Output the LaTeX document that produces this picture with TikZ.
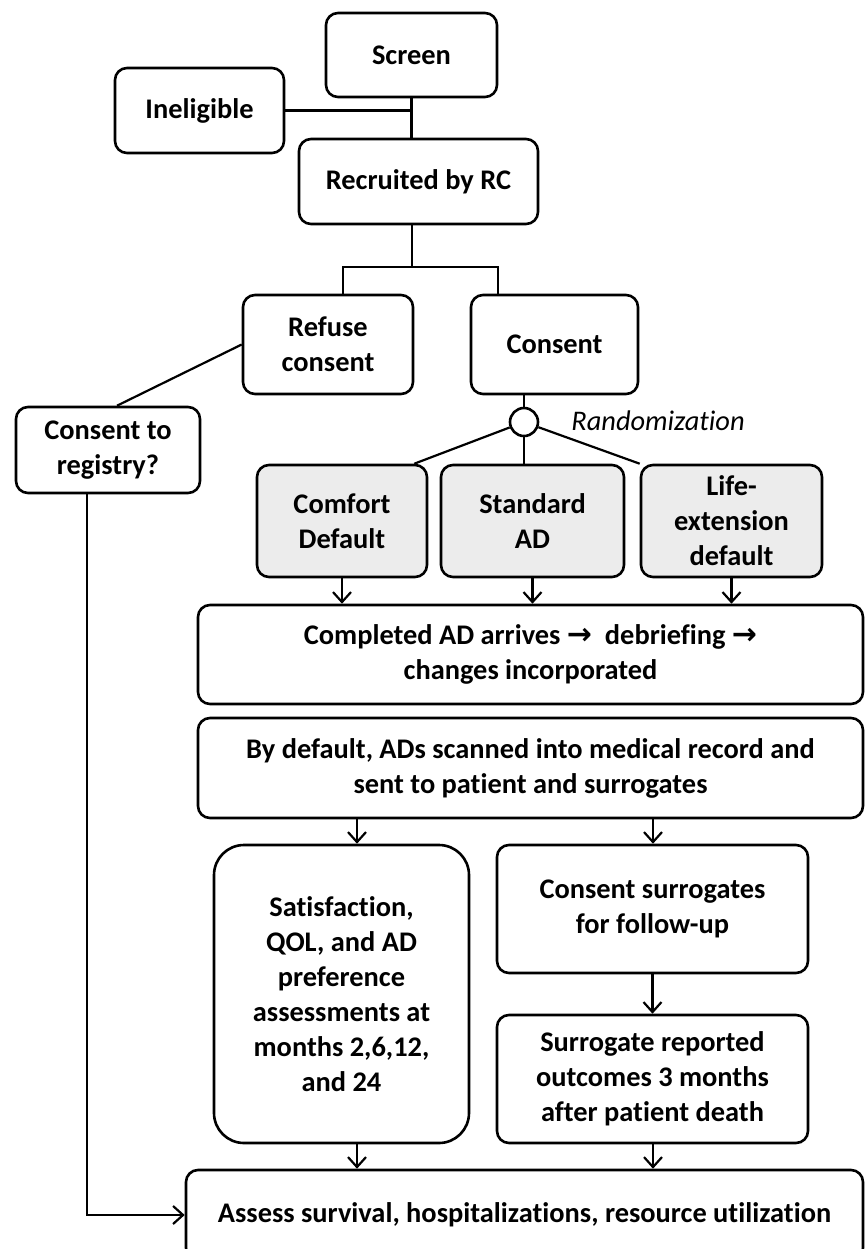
\documentclass[tikz,border=0pt]{standalone}
\usepackage{fontspec}
\setmainfont{Carlito}[Ligatures=NoCommon]
\newfontfamily\symfont{DejaVu Sans}
\usetikzlibrary{arrows.meta}

\begin{document}
\begin{tikzpicture}[x=0.5pt, y=-0.5pt,
    box/.style={draw, line width=1.3pt, rounded corners=6pt, align=center,
      inner sep=0pt, font=\bfseries\fontsize{14.2}{17.5}\selectfont},
    graybox/.style={box, fill=gray!15},
    link/.style={line width=1.1pt},
    arr/.style={link, -{Straight Barb[length=5pt, width=9pt]}}]
    \useasboundingbox (0,0) rectangle (867,1249);

    % Screening and recruitment
    \node[box, minimum width=85.5pt, minimum height=42pt] (screen) at (411.5,55) {Screen};
    \node[box, minimum width=84.5pt, minimum height=42.5pt] (inelig) at (199.5,110.5) {Ineligible};
    \node[box, minimum width=119.5pt, minimum height=42.5pt] (recruit) at (418.5,181.5) {Recruited by RC};
    \node[box, minimum width=85pt, minimum height=49.5pt] (refuse) at (328,344.5) {Refuse\\consent};
    \node[box, minimum width=83.5pt, minimum height=49.5pt] (consent) at (554.5,344.5) {Consent};
    \node[box, minimum width=92pt, minimum height=43pt] (registry) at (108,450) {Consent to\\registry?};

    % Randomization into three arms
    \node[draw, circle, line width=1.3pt, minimum size=14pt, inner sep=0pt] (rand) at (524,422) {};
    \node[anchor=west, inner sep=0pt, font=\itshape\fontsize{14.2}{17}\selectfont] (randlbl) at (571,421) {Randomization};
    \node[graybox, minimum width=85pt, minimum height=56pt] (comfort) at (342,521) {Comfort\\Default};
    \node[graybox, minimum width=91.5pt, minimum height=56pt] (standard) at (532.5,521) {Standard\\AD};
    \node[graybox, minimum width=90.5pt, minimum height=56pt] (lifeext) at (731.5,521) {Life-\\extension\\default};

    % AD processing
    \node[box, minimum width=332.5pt, minimum height=49.5pt] (done) at (530.5,654.5)
      {Completed AD arrives {\symfont\bfseries\fontsize{15}{15}\selectfont →}\ \ debriefing {\symfont\bfseries\fontsize{15}{15}\selectfont →}\\changes incorporated};
    \node[box, minimum width=332.5pt, minimum height=50pt] (bydefault) at (530.5,768)
      {By default, ADs scanned into medical record and\\sent to patient and surrogates};

    % Follow-up
    \node[box, rounded corners=15pt, minimum width=127.5pt, minimum height=149pt] (satisf) at (341.5,994)
      {Satisfaction,\\QOL, and AD\\preference\\assessments at\\months 2,6,12,\\and 24};
    \node[box, minimum width=155.5pt, minimum height=64pt] (consurr) at (652.5,909) {Consent surrogates\\for follow-up};
    \node[box, minimum width=155.5pt, minimum height=64pt] (surrrep) at (652.5,1079) {Surrogate reported\\outcomes 3 months\\after patient death};
    \node[box, minimum width=338.5pt, minimum height=45pt] (assess) at (524.5,1215)
      {Assess survival, hospitalizations, resource utilization};

    % Connectors
    \coordinate (split) at (412,267);
    \coordinate (splitL) at (343,267);
    \coordinate (splitR) at (498,267);
    \coordinate (colL) at (357,0);
    \coordinate (colR) at (653,0);
    \draw[link] (screen.south) -- (screen.south |- recruit.north);
    \draw[link] (inelig.east) -- (inelig.east -| screen.south);
    \draw[link] (recruit.south -| split) -- (split);
    \draw[link] (splitL |- refuse.north) -- (splitL) -- (splitR) -- (splitR |- consent.north);
    \draw[link] (refuse.west) -- ([xshift=4.5pt]registry.north);
    \draw[link] (consent.south -| rand) -- (rand);
    \draw[link] (rand) -- ([xshift=-7pt]comfort.north east);
    \draw[link] (rand) -- (rand |- standard.north);
    \draw[link] (rand) -- (lifeext.north west);
    \foreach \arm in {comfort, standard, lifeext}
      \draw[arr] (\arm.south) -- (\arm.south |- done.north);
    \draw[arr] (bydefault.south -| colL) -- (satisf.north -| colL);
    \draw[arr] (bydefault.south -| colR) -- (consurr.north -| colR);
    \draw[arr] (consurr) -- (surrrep);
    \draw[arr] (satisf.south -| colL) -- (assess.north -| colL);
    \draw[arr] (surrrep.south -| colR) -- (assess.north -| colR);
    \draw[arr] ([xshift=-10.5pt]registry.south) |- (assess.west);
\end{tikzpicture}
\end{document}
